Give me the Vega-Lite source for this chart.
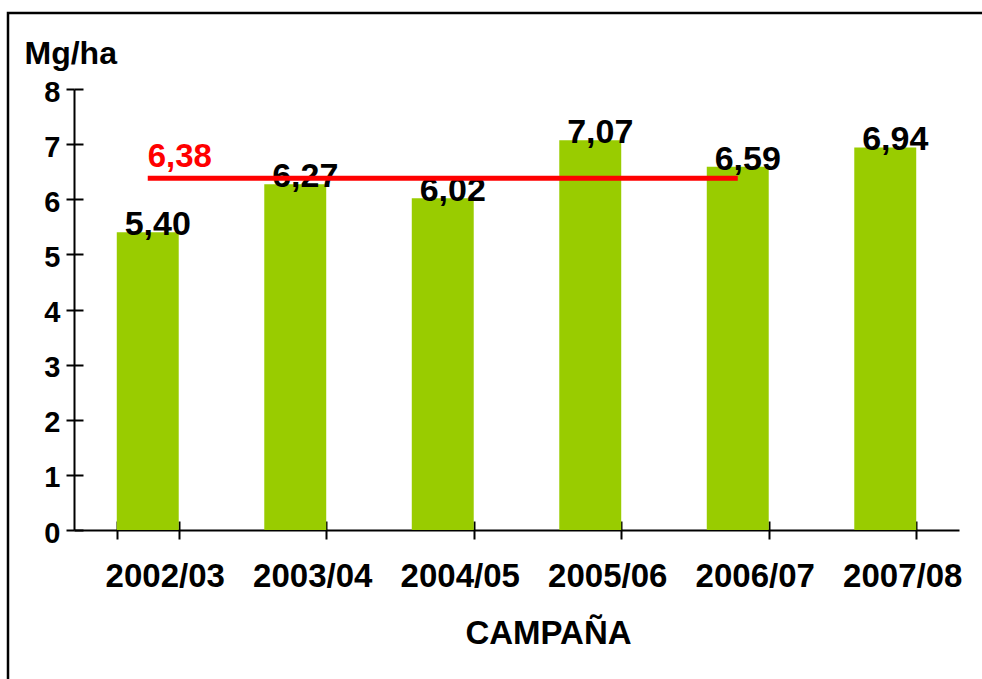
{
  "$schema": "https://vega.github.io/schema/vega-lite/v6.json",
  "autosize": {"type": "none"},
  "padding": {"left": 8, "top": 13, "right": 0, "bottom": 0},
  "width": 974,
  "height": 666,
  "background": "white",
  "config": {
    "view": {"stroke": "black", "strokeWidth": 2.5, "strokeDash": [974, 1640, 700, 10]},
    "locale": {"number": {"decimal": ",", "thousands": ".", "grouping": [3], "currency": ["", " €"]}},
    "font": "Liberation Sans",
    "axis": {"grid": false}
  },
  "datasets": {
    "campanas": [
      {"campana": "2002/03", "rend": 5.40},
      {"campana": "2003/04", "rend": 6.27},
      {"campana": "2004/05", "rend": 6.02},
      {"campana": "2005/06", "rend": 7.07},
      {"campana": "2006/07", "rend": 6.59},
      {"campana": "2007/08", "rend": 6.94}
    ],
    "media": [
      {"campana": "2002/03", "media": 6.38},
      {"campana": "2006/07", "media": 6.38}
    ]
  },
  "layer": [
    {
      "data": {"name": "campanas"},
      "mark": {"type": "bar", "color": "#99CC00"},
      "encoding": {
        "x": {
          "field": "campana", "type": "nominal",
          "scale": {"range": [66, 951], "paddingInner": 0.58, "paddingOuter": 0.29},
          "axis": {
            "orient": "bottom", "offset": -149,
            "domainColor": "black", "domainWidth": 2,
            "tickColor": "black", "tickWidth": 2, "tickSize": 9, "tickBand": "extent",
            "labelFont": "Liberation Sans", "labelFontSize": 33, "labelFontWeight": "bold",
            "labelColor": "black", "labelAngle": 0, "labelOffset": 17,
            "labelBaseline": "alphabetic", "labelPadding": 47, "labelOverlap": false,
            "title": "CAMPAÑA", "titleFont": "Liberation Sans", "titleFontSize": 33,
            "titleFontWeight": "bold", "titleColor": "black",
            "titleX": 540, "titleY": 113, "titleBaseline": "alphabetic", "titleAlign": "center"
          }
        },
        "y": {
          "field": "rend", "type": "quantitative",
          "scale": {"domain": [0, 8], "range": [517, 76], "nice": false, "zero": true},
          "axis": {
            "orient": "left", "offset": -66,
            "values": [0, 1, 2, 3, 4, 5, 6, 7, 8],
            "domainColor": "black", "domainWidth": 2,
            "tickColor": "black", "tickWidth": 2, "tickSize": 8,
            "labelFont": "Liberation Sans", "labelFontSize": 29, "labelFontWeight": "bold",
            "labelColor": "black", "labelPadding": 6, "labelOffset": 3,
            "title": "Mg/ha", "titleFont": "Liberation Sans", "titleFontSize": 32,
            "titleFontWeight": "bold", "titleColor": "black", "titleAngle": 0,
            "titleAlign": "left", "titleBaseline": "alphabetic", "titleX": -50, "titleY": 50
          }
        }
      }
    },
    {
      "data": {"name": "campanas"},
      "mark": {"type": "text", "font": "Liberation Sans", "fontSize": 34, "fontWeight": "bold",
               "color": "black", "baseline": "alphabetic", "align": "center", "dx": 10, "dy": 3},
      "encoding": {
        "x": {
          "field": "campana", "type": "nominal",
          "axis": {"orient": "bottom", "offset": -158, "domain": false, "labels": false,
                   "tickColor": "black", "tickWidth": 2, "tickSize": 9, "tickBand": "extent", "title": null}
        },
        "y": {
          "field": "rend", "type": "quantitative",
          "axis": {"orient": "left", "offset": -75, "domain": false, "labels": false,
                   "values": [0, 1, 2, 3, 4, 5, 6, 7, 8],
                   "tickColor": "black", "tickWidth": 2, "tickSize": 9, "title": null}
        },
        "text": {"field": "rend", "type": "quantitative", "format": ".2f"}
      }
    },
    {
      "data": {"name": "media"},
      "mark": {"type": "line", "color": "#FF0000", "strokeWidth": 5, "strokeCap": "butt"},
      "encoding": {
        "x": {"field": "campana", "type": "nominal", "axis": null},
        "y": {"field": "media", "type": "quantitative", "axis": null}
      }
    },
    {
      "data": {"name": "media"},
      "transform": [{"filter": "datum.campana == '2002/03'"}],
      "mark": {"type": "text", "font": "Liberation Sans", "fontSize": 33, "fontWeight": "bold",
               "color": "#FF0000", "baseline": "alphabetic", "align": "left", "dy": -11},
      "encoding": {
        "x": {"field": "campana", "type": "nominal", "axis": null},
        "y": {"field": "media", "type": "quantitative", "axis": null},
        "text": {"field": "media", "type": "quantitative", "format": ".2f"}
      }
    }
  ],
  "resolve": {"axis": {"x": "independent", "y": "independent"}}
}
